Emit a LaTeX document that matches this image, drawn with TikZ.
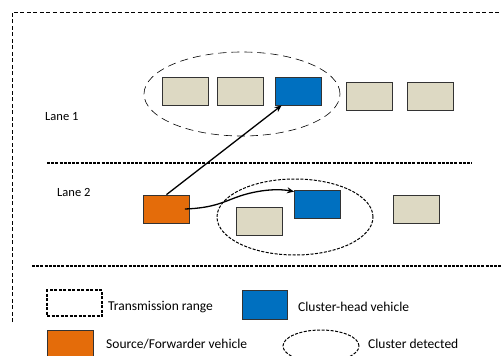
\documentclass[tikz,border=0pt]{standalone}
\usepackage{fontspec}
\setmainfont{Carlito}
\usetikzlibrary{arrows.meta,shapes.geometric}
\definecolor{beige}{HTML}{DDD9C3}
\definecolor{cblue}{HTML}{0070C0}
\definecolor{corange}{HTML}{E46C0A}
\tikzset{
  veh/.style={draw=black!80, line width=0.8pt, minimum width=46pt, minimum height=28pt, inner sep=0pt},
  plain/.style={veh, fill=beige},
  head/.style={veh, fill=cblue},
  src/.style={veh, fill=corange},
  lbl/.style={font=\fontsize{13.5}{15}\selectfont, anchor=west, inner sep=0pt},
  lanelbl/.style={font=\fontsize{12.5}{14}\selectfont, anchor=west, inner sep=0pt},
  lanesep/.style={line width=1.3pt, dash pattern=on 3pt off 1.2pt},
  clust/.style={draw, ellipse, dashed, line width=0.8pt, inner sep=0pt},
  link/.style={line width=1.3pt, -{Stealth[length=7pt,width=6pt]}}
}
\begin{document}
\begin{tikzpicture}[x=1pt,y=-1pt]
\useasboundingbox (0,0) rectangle (501,356);
% outer transmission range
\draw[line width=0.7pt, dash pattern=on 4pt off 2.5pt] (12,322) -- (12,12) -- (505,12);
% lane separators
\draw[lanesep] (47,163) -- (472,163);
\draw[lanesep] (32,266) -- (505,266);
% lane labels
\node[lanelbl] (l1) at (45,117) {Lane 1};
\node[lanelbl] (l2) at (57,192) {Lane 2};
% lane 1 vehicles
\node[plain] (a1) at (185,91) {};
\node[plain] (a2) at (240.5,91) {};
\node[head] (a3) at (298,91) {};
\node[plain] (a4) at (369.5,96.5) {};
\node[plain] (a5) at (430,96.5) {};
% cluster 1
\node[clust, dash pattern=on 8pt off 5pt, line width=0.6pt, minimum width=196pt, minimum height=84pt] (c1) at (242,94) {};
% lane 2 vehicles
\node[src] (s) at (166.5,209) {};
\node[plain] (b1) at (259.5,221) {};
\node[head] (b2) at (317.5,204) {};
\node[plain] (b3) at (416,209.5) {};
% cluster 2
\node[clust, dash pattern=on 3pt off 1.5pt, line width=1pt, minimum width=156pt, minimum height=76pt] (c2) at (295,217) {};
% links
\coordinate (t1) at ([xshift=7pt]a3.south west);
\draw[link] (s.north) -- (t1);
\coordinate (t2) at ([yshift=-2pt]b2.north west);
\draw[link] ([xshift=-5pt]s.east) .. controls (215,208) and (225,201) .. (240,196) .. controls (255,191) and (275,188) .. (t2);
% legend
\node[draw, line width=1.1pt, dash pattern=on 3pt off 1.5pt, minimum width=55pt, minimum height=26pt, inner sep=0pt] (lg1) at (74.5,303) {};
\node[lbl] (lt1) at (108,307) {Transmission range};
\node[head, minimum width=45pt, minimum height=29pt] (lg2) at (264.5,304.5) {};
\node[lbl] (lt2) at (298,307) {Cluster-head vehicle};
\node[src, minimum width=46pt, minimum height=30pt] (lg3) at (70,345) {};
\node[lbl] (lt3) at (106,344) {Source/Forwarder vehicle};
\node[clust, dash pattern=on 3pt off 1.5pt, line width=1pt, minimum width=76pt, minimum height=32pt] (lg4) at (321,346) {};
\node[lbl] (lt4) at (368,344) {Cluster detected};
\end{tikzpicture}
\end{document}
